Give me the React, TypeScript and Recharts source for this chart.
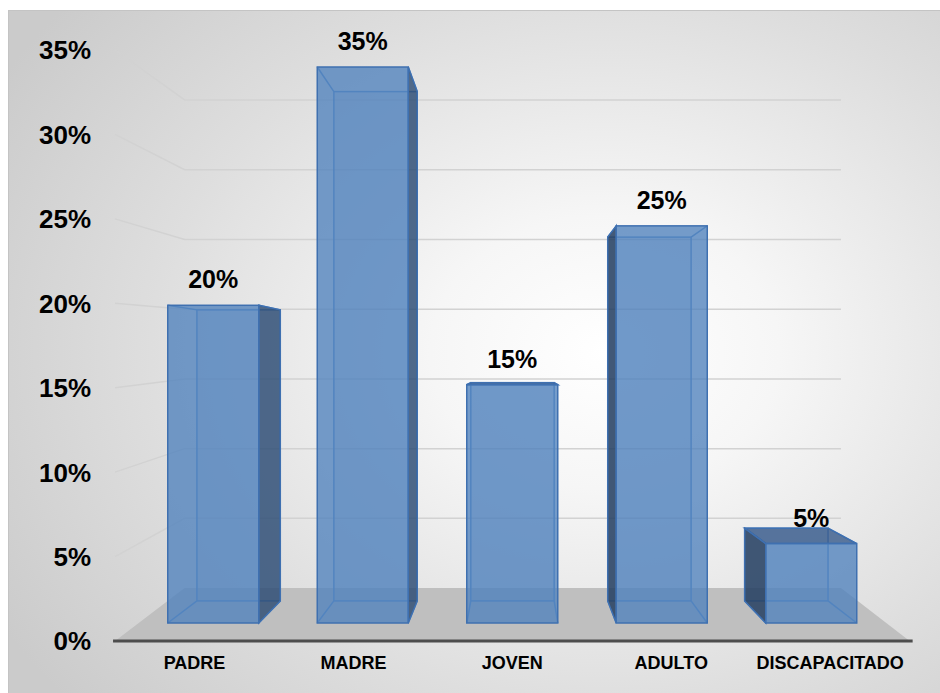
import React from "react";
import { BarChart, Bar, XAxis, YAxis, CartesianGrid, LabelList } from "recharts";

const categories = ["PADRE", "MADRE", "JOVEN", "ADULTO", "DISCAPACITADO"];
const percentages = [20, 35, 15, 25, 5];
const yTicks = [0, 5, 10, 15, 20, 25, 30, 35];

const data = categories.map((name, i) => ({ name, value: percentages[i] }));

const W = 940;
const H = 693;
const PLOT_LEFT = 138.75;
const PLOT_RIGHT = 886.25;
const PLOT_TOP = 67;
const PLOT_BOTTOM = 623;
const Y_AXIS_W = 60;
const X_AXIS_H = 30;
const FONT = "'Liberation Sans', Arial, sans-serif";

// fake 3D: vanishing point + depth factors relative to the bar front plane
const VX = 515;
const VY_BAR = 360;
const BAR_DEPTH = 0.916;
const VY_ROOM = 337;
const WALL = 0.878;
const FRONT = 1.063;

const proj = (x: number, y: number, vy: number, k: number) => [
  VX + (x - VX) * k,
  vy + (y - vy) * k,
];

const GridLine = (props: any) => {
  const { y1 } = props;
  const [wl, wy] = proj(PLOT_LEFT, y1, VY_ROOM, WALL);
  const [wr] = proj(PLOT_RIGHT, y1, VY_ROOM, WALL);
  const [fl, fy] = proj(PLOT_LEFT, y1, VY_ROOM, FRONT);
  const [fr] = proj(PLOT_RIGHT, y1, VY_ROOM, FRONT);
  if (Math.abs(y1 - PLOT_BOTTOM) < 0.5) {
    return (
      <g>
        <polygon
          points={`${fl},${fy} ${wl},${wy} ${wr},${wy} ${fr},${fy}`}
          fill="#bfbfbf"
        />
        <line x1={fl - 2} y1={fy} x2={fr + 3} y2={fy} stroke="#4d4d4d" strokeWidth={3} />
      </g>
    );
  }
  return (
    <polyline
      points={`${fl},${fy} ${wl},${wy} ${wr},${wy}`}
      fill="none"
      stroke="#d2d2d2"
      strokeWidth={1.5}
    />
  );
};

const YTick = (props: any) => {
  const { y, payload } = props;
  const [, ly] = proj(PLOT_LEFT, y, VY_ROOM, FRONT);
  return (
    <text
      x={91}
      y={ly}
      dy="0.36em"
      textAnchor="end"
      fontSize={26}
      fontWeight="bold"
      fontFamily={FONT}
      fill="#000"
    >
      {payload.value}%
    </text>
  );
};

const XTick = (props: any) => {
  const { x, payload } = props;
  const [lx] = proj(x, PLOT_BOTTOM, VY_ROOM, FRONT);
  return (
    <text
      x={lx}
      y={663}
      dy="0.36em"
      textAnchor="middle"
      fontSize={18}
      fontWeight="bold"
      fontFamily={FONT}
      fill="#000"
    >
      {payload.value}
    </text>
  );
};

const Box3D = (props: any) => {
  const { x, y, width, height } = props;
  const x0 = x;
  const x1 = x + width;
  const yt = y;
  const yb = y + height;
  const [bx0, byt] = proj(x0, yt, VY_BAR, BAR_DEPTH);
  const [bx1, byb] = proj(x1, yb, VY_BAR, BAR_DEPTH);
  const edge = "#3f70b0";
  const inner = "#5a8cc9";
  return (
    <g>
      <rect x={bx0} y={byt} width={bx1 - bx0} height={byb - byt} fill="#4f81bd" fillOpacity={0.15} stroke={inner} strokeWidth={1.5} />
      <line x1={x0} y1={yt} x2={bx0} y2={byt} stroke={inner} strokeWidth={1.5} />
      <line x1={x1} y1={yt} x2={bx1} y2={byt} stroke={inner} strokeWidth={1.5} />
      <line x1={x0} y1={yb} x2={bx0} y2={byb} stroke={inner} strokeWidth={1.5} />
      <line x1={x1} y1={yb} x2={bx1} y2={byb} stroke={inner} strokeWidth={1.5} />
      {bx1 > x1 && (
        <polygon
          points={`${x1},${yt} ${bx1},${byt} ${bx1},${byb} ${x1},${yb}`}
          fill="#2b4a72"
          fillOpacity={0.8}
          stroke={edge}
          strokeWidth={1.5}
        />
      )}
      {bx0 < x0 && (
        <polygon
          points={`${x0},${yt} ${bx0},${byt} ${bx0},${byb} ${x0},${yb}`}
          fill="#243e60"
          fillOpacity={0.85}
          stroke={edge}
          strokeWidth={1.5}
        />
      )}
      {byt < yt && (
        <polygon
          points={`${x0},${yt} ${bx0},${byt} ${bx1},${byt} ${x1},${yt}`}
          fill="#36598a"
          fillOpacity={0.8}
          stroke={edge}
          strokeWidth={1.5}
        />
      )}
      <rect x={x0} y={yt} width={width} height={height} fill="#4f81bd" fillOpacity={0.78} stroke={edge} strokeWidth={1.5} />
    </g>
  );
};

const ValueLabel = (props: any) => {
  const { x, y, width, value } = props;
  return (
    <text
      x={x + width / 2}
      y={y - 26}
      dy="0.36em"
      textAnchor="middle"
      fontSize={25}
      fontWeight="bold"
      fontFamily={FONT}
      fill="#000"
    >
      {value}%
    </text>
  );
};

export default function App() {
  return (
    <div style={{ position: "fixed", left: 0, top: 0, width: W, height: H, overflow: "hidden", background: "#fff" }}>
      <div
        style={{
          position: "absolute",
          left: 8,
          top: 10,
          width: W - 8,
          height: H - 10,
          boxSizing: "border-box",
          borderLeft: "1px solid #c4c4c4",
          borderTop: "1px solid #c4c4c4",
          background:
            "radial-gradient(ellipse 75% 80% at 64% 50%, #ffffff 0%, #f6f6f6 25%, #dedede 65%, #cbcbcb 100%)",
        }}
      />
      <div style={{ position: "absolute", left: 0, top: 0 }}>
        <BarChart
          width={W}
          height={H}
          data={data}
          margin={{
            top: PLOT_TOP,
            right: W - PLOT_RIGHT,
            bottom: H - PLOT_BOTTOM - X_AXIS_H,
            left: PLOT_LEFT - Y_AXIS_W,
          }}
        >
          <CartesianGrid vertical={false} horizontal={GridLine} />
          <XAxis
            dataKey="name"
            height={X_AXIS_H}
            axisLine={false}
            tickLine={false}
            interval={0}
            tick={XTick}
          />
          <YAxis
            type="number"
            domain={[0, 35]}
            ticks={yTicks}
            interval={0}
            width={Y_AXIS_W}
            axisLine={false}
            tickLine={false}
            tick={YTick}
          />
          <Bar dataKey="value" barSize={91} shape={Box3D} isAnimationActive={false}>
            <LabelList dataKey="value" content={ValueLabel} />
          </Bar>
        </BarChart>
      </div>
    </div>
  );
}
